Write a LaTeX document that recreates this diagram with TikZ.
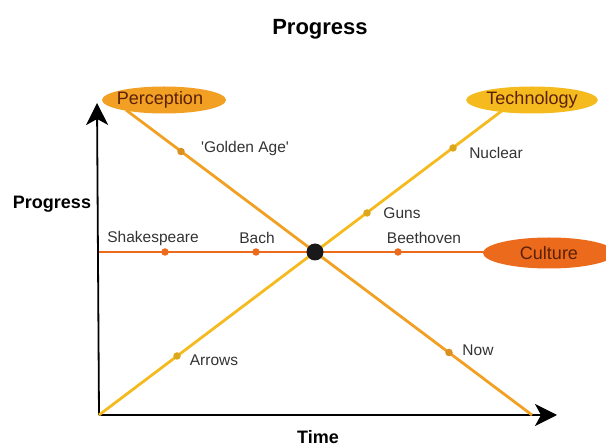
\documentclass[tikz,border=0pt]{standalone}
\usepackage{fontspec}
\setmainfont{Liberation Sans}
\usetikzlibrary{arrows.meta,shapes.geometric}

\definecolor{percol}{HTML}{F2A024}
\definecolor{techcol}{HTML}{F5BA1E}
\definecolor{cultcol}{HTML}{EC6A1C}
\definecolor{inktext}{HTML}{5A2008}

\tikzset{
  axis/.style={line width=1.8pt, -{Stealth[length=22pt,width=22pt,inset=6pt]}},
  trend/.style={line width=2.8pt},
  goal/.style={ellipse, inner sep=1pt, text=inktext,
    font=\fontsize{18}{21}\selectfont},
  marker/.style={circle, inner sep=0pt, minimum size=7.5pt},
  event/.style={text=black!80, font=\fontsize{15.5}{18}\selectfont},
  axislabel/.style={font=\fontsize{18}{21}\selectfont\bfseries}
}

\begin{document}
\begin{tikzpicture}[x=1pt,y=-1pt]
    \useasboundingbox (0,0) rectangle (606,446);
    % Axes
    \coordinate (origin) at (99,415);
    \coordinate (ytip) at (97,103);
    \coordinate (xtip) at (557,415);
    \draw[axis] (origin) -- (ytip);
    \draw[axis] (origin) -- (xtip);
    \node[axislabel] (title) at (320,29) {\fontsize{22}{26}\selectfont Progress};
    \node[axislabel] (ylabel) at (52,204) {Progress};
    \node[axislabel] (xlabel) at (318,437) {Time};
    % Trend lines (ends hidden under the ellipses)
    \coordinate (perstart) at (126,110);
    \coordinate (perend) at (532,415);
    \coordinate (techend) at (503,110);
    \coordinate (cultstart) at (99,252);
    \coordinate (cultend) at (548,252);
    \draw[trend, percol] (perstart) -- (perend);
    \draw[trend, techcol] (origin) -- (techend);
    \draw[trend, cultcol] (cultstart) -- (cultend);
    % End points
    \node[goal, fill=percol, minimum width=124pt, minimum height=27pt] (perception) at (164,100) {\hspace{-8pt}Perception};
    \node[goal, fill=techcol, minimum width=129pt, minimum height=27pt] (technology) at (532,100) {Technology};
    \node[goal, fill=cultcol, minimum width=132pt, minimum height=31pt] (culture) at (549,253) {Culture};
    \node[circle, fill=black!90, minimum size=17pt, inner sep=0pt] (cross) at (315,252) {};
    % Markers
    \node[marker, fill=percol!90!black] (goldenage) at (181,151.5) {};
    \node[marker, fill=percol!90!black] (now) at (449,352.5) {};
    \node[marker, fill=techcol!90!black] (nuclear) at (453,148) {};
    \node[marker, fill=techcol!90!black] (guns) at (367,213) {};
    \node[marker, fill=techcol!90!black] (arrows) at (177,356) {};
    \node[marker, fill=cultcol] (shakespeare) at (165,252) {};
    \node[marker, fill=cultcol] (bach) at (256,252) {};
    \node[marker, fill=cultcol] (beethoven) at (398,252) {};
    % Labels
    \node[event] (goldenagelbl) at (245,148) {\textquotesingle Golden Age\textquotesingle};
    \node[event] (nowlbl) at (478,350) {Now};
    \node[event] (nuclearlbl) at (496,153) {Nuclear};
    \node[event] (gunslbl) at (402,213) {Guns};
    \node[event] (arrowslbl) at (214,360) {Arrows};
    \node[event] (shakespearelbl) at (153,238) {Shakespeare};
    \node[event] (bachlbl) at (257,238) {Bach};
    \node[event] (beethovenlbl) at (424,238) {Beethoven};
\end{tikzpicture}
\end{document}
